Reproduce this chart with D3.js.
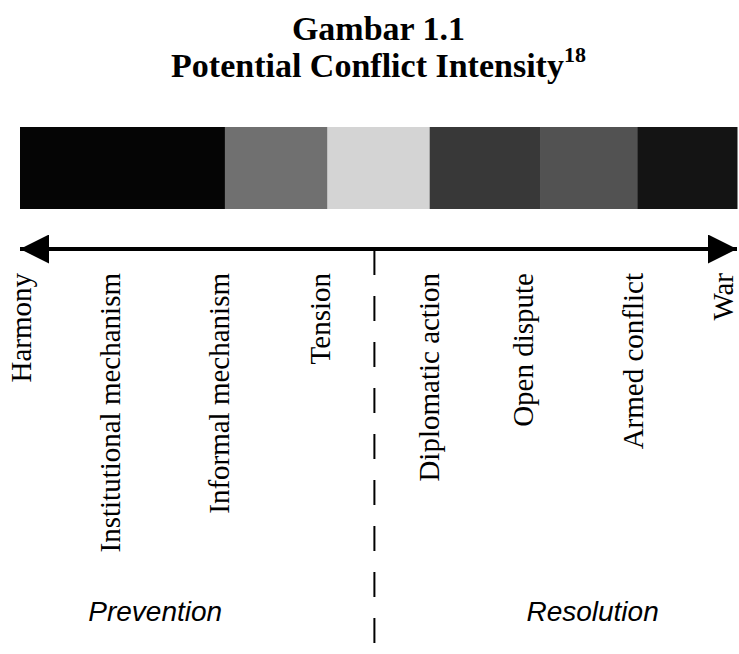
<!DOCTYPE html>
<meta charset="utf-8">
<style>

body {
  margin: 0;
  background: #fff;
}

.title {
  font-family: "Liberation Serif", "Times New Roman", serif;
  font-weight: bold;
  fill: #000;
}

.stage text {
  font-family: "Liberation Serif", "Times New Roman", serif;
  font-size: 29px;
  fill: #000;
}

.phase {
  font-family: "Liberation Sans", Arial, sans-serif;
  font-style: italic;
  font-size: 28px;
  fill: #000;
}

</style>
<body>
<script src="https://cdn.jsdelivr.net/npm/d3@7"></script>
<script>

// stages along the intensity scale (0 = harmony, 7 = war)
var stages = ["Harmony", "Institutional mechanism", "Informal mechanism", "Tension",
              "Diplomatic action", "Open dispute", "Armed conflict", "War"];
var stagePos = [0.01, 0.88, 1.94, 2.93, 3.99, 4.91, 5.98, 6.86];

// shaded bands of the intensity bar
var bandStart = [0, 2, 3, 4, 5.08, 6.03];
var bandEnd   = [2, 3, 4, 5.08, 6.03, 7];
var bandDark  = [0.98, 0.56, 0.17, 0.78, 0.68, 0.92];

// prevention / resolution split
var phases = ["Prevention", "Resolution"];
var phasePos = [1.32, 5.59];
var divider = 3.46;

var width = 739,
    height = 654;

var x = d3.scaleLinear()
    .domain([0, 7])
    .range([20, 737]);

var shade = d3.scaleLinear()
    .domain([0, 1])
    .range(["#ffffff", "#000000"]);

var svg = d3.select("body").append("svg")
    .attr("width", width)
    .attr("height", height);

// title
var cx = (x(0) + x(7)) / 2;
svg.append("text")
    .attr("class", "title")
    .attr("x", cx)
    .attr("y", 40)
    .attr("text-anchor", "middle")
    .style("font-size", "34px")
    .text("Gambar 1.1");

var t2 = svg.append("text")
    .attr("class", "title")
    .attr("x", cx)
    .attr("y", 77)
    .attr("text-anchor", "middle")
    .style("font-size", "34px");
t2.append("tspan").text("Potential Conflict Intensity");
t2.append("tspan")
    .attr("dy", -15)
    .style("font-size", "22px")
    .text("18");

// intensity bar
var bands = d3.range(bandStart.length).map(function(i) {
    return {x0: bandStart[i], x1: bandEnd[i], v: bandDark[i]};
});

svg.selectAll(".band")
    .data(bands)
  .enter().append("rect")
    .attr("class", "band")
    .attr("x", function(d) { return x(d.x0); })
    .attr("width", function(d) { return x(d.x1) - x(d.x0) + 0.5; })
    .attr("y", 127)
    .attr("height", 82)
    .attr("fill", function(d) { return shade(d.v); });

// double headed arrow
var defs = svg.append("defs");
defs.append("marker")
    .attr("id", "head")
    .attr("viewBox", "0 0 10 10")
    .attr("refX", 10)
    .attr("refY", 5)
    .attr("markerUnits", "userSpaceOnUse")
    .attr("markerWidth", 29)
    .attr("markerHeight", 29)
    .attr("orient", "auto-start-reverse")
  .append("path")
    .attr("d", "M0,0L10,5L0,10Z")
    .attr("fill", "#000");

svg.append("line")
    .attr("x1", x(0))
    .attr("x2", x(7))
    .attr("y1", 249)
    .attr("y2", 249)
    .attr("stroke", "#000")
    .attr("stroke-width", 4)
    .attr("marker-start", "url(#head)")
    .attr("marker-end", "url(#head)");

// dashed divider
svg.append("line")
    .attr("x1", x(divider))
    .attr("x2", x(divider))
    .attr("y1", 250)
    .attr("y2", height)
    .attr("stroke", "#000")
    .attr("stroke-width", 2)
    .attr("stroke-dasharray", "25,21");

// stage labels, vertical
var stage = svg.selectAll(".stage")
    .data(stages)
  .enter().append("g")
    .attr("class", "stage")
    .attr("transform", function(d, i) { return "translate(" + x(stagePos[i]) + ",273) rotate(-90)"; });

stage.append("text")
    .attr("text-anchor", "end")
    .attr("dy", "0.35em")
    .text(function(d) { return d; });

// phase labels
svg.selectAll(".phase")
    .data(phases)
  .enter().append("text")
    .attr("class", "phase")
    .attr("x", function(d, i) { return x(phasePos[i]); })
    .attr("y", 621)
    .attr("text-anchor", "middle")
    .text(function(d) { return d; });

</script>
